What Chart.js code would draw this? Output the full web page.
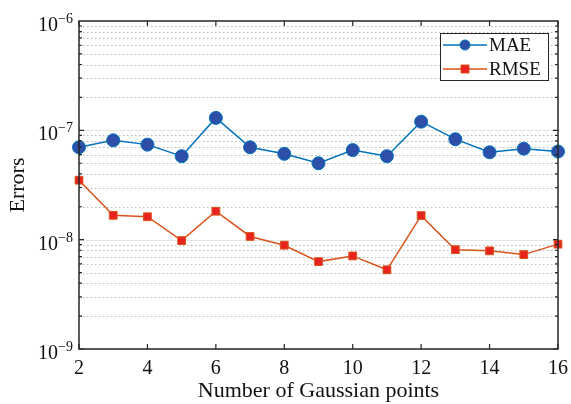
<!DOCTYPE html>
<html>
<head>
<meta charset="utf-8">
<script src="https://cdn.jsdelivr.net/npm/chart.js@4.4.1/dist/chart.umd.min.js"></script>
<style>
  html, body { margin: 0; padding: 0; background: #fff; }
  #wrap { width: 571px; height: 404px; }
</style>
</head>
<body>
<div id="wrap"><canvas id="errChart" width="571" height="404"></canvas></div>
<script>
// Error vs. number of Gaussian points
const gaussPoints = [2, 3, 4, 5, 6, 7, 8, 9, 10, 11, 12, 13, 14, 15, 16];
const maeValues  = [7.0e-8, 8.1e-8, 7.4e-8, 5.8e-8, 1.30e-7, 7.0e-8, 6.1e-8, 5.0e-8,
                    6.6e-8, 5.8e-8, 1.20e-7, 8.3e-8, 6.3e-8, 6.8e-8, 6.4e-8];
const rmseValues = [3.5e-8, 1.67e-8, 1.62e-8, 0.98e-8, 1.82e-8, 1.07e-8, 0.89e-8, 0.63e-8,
                    0.71e-8, 0.53e-8, 1.66e-8, 0.81e-8, 0.79e-8, 0.73e-8, 0.91e-8];
const xTicks = [2, 4, 6, 8, 10, 12, 14, 16];
const yDecades = [-9, -8, -7, -6];

const SERIF = '"Liberation Serif", "Times New Roman", serif';
const INK = '#111';

const COLORS = {
  mae:      '#0072BD',
  maeFill:  '#2d4fa8',
  rmse:     '#D95319',
  rmseFill: '#e8231f',
};

const toXY = vals => vals.map((v, i) => ({ x: gaussPoints[i], y: v }));

// grid, box, inward ticks, power-of-ten labels and the legend
const axesPlugin = {
  id: 'matlabAxes',
  beforeDatasetsDraw(chart) {
    const { ctx, chartArea: a, scales: { y } } = chart;
    ctx.save();
    for (let e = yDecades[0]; e < yDecades[yDecades.length - 1]; e++) {
      for (let m = 1; m <= 9; m++) {
        const v = m * Math.pow(10, e);
        const py = Math.round(y.getPixelForValue(v)) + 0.5;
        ctx.beginPath();
        if (m === 1) {
          ctx.strokeStyle = '#e6e6e6';
          ctx.setLineDash([]);
        } else {
          ctx.strokeStyle = '#b8b8b8';
          ctx.setLineDash([1.5, 2.5]);
        }
        ctx.lineWidth = 1;
        ctx.moveTo(a.left, py);
        ctx.lineTo(a.right, py);
        ctx.stroke();
      }
    }
    ctx.restore();
  },
  afterDatasetsDraw(chart) {
    const { ctx, chartArea: a, scales: { x, y } } = chart;
    ctx.save();
    ctx.strokeStyle = '#262626';
    ctx.lineWidth = 1.5;
    ctx.setLineDash([]);
    ctx.strokeRect(a.left, a.top, a.right - a.left, a.bottom - a.top);

    // x ticks, top and bottom
    ctx.lineWidth = 1.2;
    ctx.beginPath();
    xTicks.forEach(t => {
      const px = x.getPixelForValue(t);
      ctx.moveTo(px, a.bottom); ctx.lineTo(px, a.bottom - 5);
      ctx.moveTo(px, a.top);    ctx.lineTo(px, a.top + 5);
    });
    // y ticks, left and right
    for (let e = yDecades[0]; e < yDecades[yDecades.length - 1]; e++) {
      for (let m = 1; m <= 9; m++) {
        const py = y.getPixelForValue(m * Math.pow(10, e));
        const len = m === 1 ? 5 : 3;
        ctx.moveTo(a.left, py);  ctx.lineTo(a.left + len, py);
        ctx.moveTo(a.right, py); ctx.lineTo(a.right - len, py);
      }
    }
    ctx.stroke();

    // y labels: 10 with raised exponent
    ctx.fillStyle = INK;
    ctx.textBaseline = 'alphabetic';
    yDecades.forEach(e => {
      const py = y.getPixelForValue(Math.pow(10, e));
      const exp = '\u2212' + Math.abs(e);
      ctx.font = '14px ' + SERIF;
      ctx.textAlign = 'right';
      const expRight = a.left - 6;
      ctx.fillText(exp, expRight, py + 2);
      const expW = ctx.measureText(exp).width;
      ctx.font = '20px ' + SERIF;
      ctx.fillText('10', expRight - expW, py + 10);
    });

    // legend
    const lx = 440, ly = 33, lw = 108, lh = 47;
    ctx.fillStyle = '#fff';
    ctx.fillRect(lx, ly, lw, lh);
    ctx.strokeStyle = '#262626';
    ctx.lineWidth = 1;
    ctx.strokeRect(lx + 0.5, ly + 0.5, lw, lh);
    const items = [
      { label: 'MAE',  color: COLORS.mae,  fill: COLORS.maeFill,  shape: 'circle', cy: ly + 12 },
      { label: 'RMSE', color: COLORS.rmse, fill: COLORS.rmseFill, shape: 'rect',   cy: ly + 36 },
    ];
    items.forEach(it => {
      ctx.strokeStyle = it.color;
      ctx.lineWidth = 1.5;
      ctx.beginPath();
      ctx.moveTo(lx + 3, it.cy);
      ctx.lineTo(lx + 47, it.cy);
      ctx.stroke();
      ctx.fillStyle = it.fill;
      ctx.beginPath();
      if (it.shape === 'circle') {
        ctx.arc(lx + 25, it.cy, 5, 0, Math.PI * 2);
      } else {
        ctx.rect(lx + 21, it.cy - 4, 8, 8);
      }
      ctx.fill();
      ctx.lineWidth = 1;
      ctx.stroke();
      ctx.fillStyle = INK;
      ctx.font = '19px ' + SERIF;
      ctx.textAlign = 'left';
      ctx.textBaseline = 'middle';
      ctx.fillText(it.label, lx + 49, it.cy + 1);
    });
    ctx.restore();
  },
};

new Chart(document.getElementById('errChart'), {
  type: 'line',
  data: {
    datasets: [
      {
        label: 'MAE',
        data: toXY(maeValues),
        borderColor: COLORS.mae,
        borderWidth: 1.5,
        pointStyle: 'circle',
        pointRadius: 6.5,
        pointBackgroundColor: COLORS.maeFill,
        pointBorderColor: COLORS.mae,
        pointBorderWidth: 1,
        tension: 0,
        clip: false,
      },
      {
        label: 'RMSE',
        data: toXY(rmseValues),
        borderColor: COLORS.rmse,
        borderWidth: 1.5,
        pointStyle: 'rect',
        pointRadius: 5.5,
        pointBackgroundColor: COLORS.rmseFill,
        pointBorderColor: COLORS.rmse,
        pointBorderWidth: 1,
        tension: 0,
        clip: false,
      },
    ],
  },
  options: {
    responsive: false,
    animation: false,
    layout: { padding: { left: 0, right: 13, top: 21, bottom: 0 } },
    plugins: {
      legend: { display: false },
      tooltip: { enabled: false },
    },
    scales: {
      x: {
        type: 'linear',
        min: 2,
        max: 16,
        afterFit: s => { s.height = 55; s.paddingLeft = 0; s.paddingRight = 0; },
        afterBuildTicks: s => { s.ticks = xTicks.map(v => ({ value: v })); },
        grid: { display: false, drawTicks: false },
        border: { display: false },
        ticks: {
          color: INK,
          font: { family: SERIF, size: 20 },
          padding: 8,
          maxRotation: 0,
        },
        title: {
          display: true,
          text: 'Number of Gaussian points',
          color: INK,
          font: { family: SERIF, size: 22 },
          padding: { top: 0, bottom: 0 },
        },
      },
      y: {
        type: 'logarithmic',
        min: 1e-9,
        max: 1e-6,
        afterFit: s => { s.width = 79; s.paddingTop = 0; s.paddingBottom = 0; },
        grid: { display: false, drawTicks: false },
        border: { display: false },
        ticks: { display: false },
        title: {
          display: true,
          text: 'Errors',
          color: INK,
          font: { family: SERIF, size: 22 },
          padding: { top: 5, bottom: 0 },
        },
      },
    },
  },
  plugins: [axesPlugin],
});
</script>
</body>
</html>
